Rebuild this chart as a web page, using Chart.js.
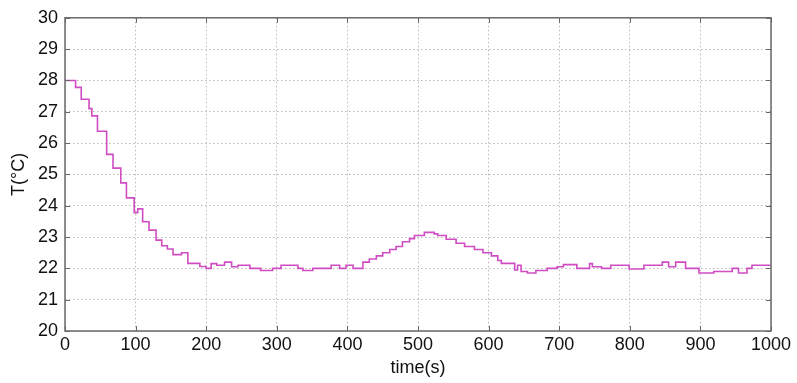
<!DOCTYPE html>
<html><head><meta charset="utf-8">
<script src="https://cdn.jsdelivr.net/npm/chart.js@4"></script>
<style>html,body{margin:0;padding:0;background:#fff}</style>
</head><body>
<canvas id="c" width="797" height="383"></canvas>
<script>
const times = [0,15,23,34,38,46,59,68,79,87,98,103,110,119,129,137,145,153,165,174,191,200,207,215,226,236,245,262,277,294,306,330,337,351,377,389,398,408,422,431,441,450,460,469,478,488,495,509,523,528,540,554,566,580,592,604,613,618,637,641,646,655,667,683,697,706,725,743,747,760,773,799,820,846,855,865,879,898,919,945,954,966,973,1000];
const temps = [28.0,27.78,27.4,27.1,26.87,26.38,25.64,25.2,24.73,24.25,23.78,23.9,23.49,23.22,22.9,22.72,22.62,22.44,22.5,22.16,22.06,22.0,22.15,22.1,22.2,22.05,22.1,22.0,21.93,22.0,22.1,22.0,21.93,22.0,22.1,22.0,22.1,22.0,22.2,22.3,22.4,22.5,22.6,22.7,22.85,22.95,23.05,23.15,23.1,23.05,22.93,22.8,22.7,22.6,22.5,22.4,22.25,22.16,21.95,22.1,21.9,21.85,21.93,22.0,22.05,22.12,22.0,22.15,22.05,22.0,22.1,21.98,22.1,22.2,22.05,22.2,22.0,21.85,21.9,22.0,21.85,22.0,22.1,22.1];
const xTicks = [0,100,200,300,400,500,600,700,800,900,1000];
const yTicks = [20,21,22,23,24,25,26,27,28,29,30];
const xLabel = 'time(s)';
const yLabel = 'T(°C)';

const pts = times.map((t,i)=>({x:t,y:temps[i]}));
const font = {family:'Liberation Sans, Arial, sans-serif', size:18};

const inwardTicks = {
  id:'inwardTicks',
  afterDatasetsDraw(chart){
    const {ctx, chartArea:a, scales:{x,y}} = chart;
    ctx.save();
    ctx.strokeStyle = '#666';
    ctx.lineWidth = 1;
    const L = 5;
    ctx.beginPath();
    xTicks.forEach(v=>{
      const px = Math.round(x.getPixelForValue(v))+0.5;
      ctx.moveTo(px,a.bottom); ctx.lineTo(px,a.bottom-L);
      ctx.moveTo(px,a.top); ctx.lineTo(px,a.top+L);
    });
    yTicks.forEach(v=>{
      const py = Math.round(y.getPixelForValue(v))+0.5;
      ctx.moveTo(a.left,py); ctx.lineTo(a.left+L,py);
      ctx.moveTo(a.right,py); ctx.lineTo(a.right-L,py);
    });
    ctx.stroke();
    ctx.lineWidth = 1.5;
    ctx.strokeStyle = '#6a6a6a';
    ctx.strokeRect(a.left,a.top,a.right-a.left,a.bottom-a.top);
    ctx.restore();
  }
};

new Chart(document.getElementById('c'), {
  type:'line',
  data:{datasets:[{data:pts, stepped:'before', borderColor:'#cf4cc2', borderWidth:1.6, pointRadius:0, fill:false}]},
  options:{
    responsive:false, animation:false,
    layout:{padding:{top:15,right:26,left:0,bottom:0}},
    plugins:{legend:{display:false}, tooltip:{enabled:false}},
    scales:{
      x:{type:'linear', min:0, max:1000,
        afterBuildTicks(s){ s.ticks = xTicks.map(v=>({value:v})); },
        afterFit(s){ s.height = 52; },
        grid:{color:'#b8b8b8', drawTicks:false, lineWidth:1},
        border:{display:false, dash:[1.5,2.5]},
        ticks:{font, color:'#111', padding:3, maxRotation:0, callback:v=>String(v)},
        title:{display:true, text:xLabel, font, color:'#111', padding:{top:0,bottom:4}}
      },
      y:{type:'linear', min:20, max:30,
        afterBuildTicks(s){ s.ticks = yTicks.map(v=>({value:v})); },
        afterFit(s){ s.width = 65; },
        grid:{color:'#b8b8b8', drawTicks:false, lineWidth:1},
        border:{display:false, dash:[1.5,2.5]},
        ticks:{font, color:'#111', padding:7, callback:v=>String(v)},
        title:{display:true, text:yLabel, font, color:'#111', padding:{top:8,bottom:0}}
      }
    }
  },
  plugins:[inwardTicks]
});
</script>
</body></html>
